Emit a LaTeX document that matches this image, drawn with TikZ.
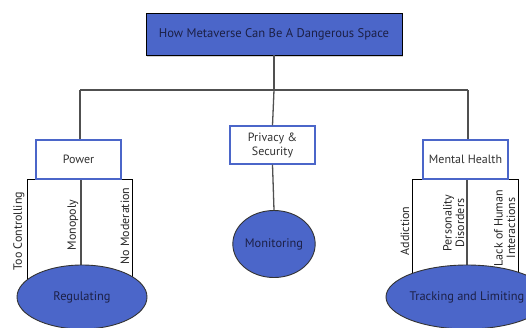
\documentclass[tikz,border=0pt]{standalone}
\usepackage{fontspec}
\setmainfont{PT Sans}
\usepackage{tikz}
\usetikzlibrary{shapes.geometric, positioning, calc, shadows}

\definecolor{mblue}{RGB}{75,102,201}
\definecolor{navy}{RGB}{28,32,70}
\definecolor{txtgray}{RGB}{50,50,50}
\definecolor{linegray}{RGB}{80,80,80}

\begin{document}
\begin{tikzpicture}[
    x=1pt, y=-1pt,
    title/.style={rectangle, draw=black, line width=0.9pt, fill=mblue, text=navy, font=\fontsize{12.6}{14}\selectfont, minimum width=256pt, minimum height=42pt, drop shadow={shadow xshift=1pt, shadow yshift=-1.5pt, opacity=0.35}},
    topic/.style={rectangle, draw=mblue, line width=1.4pt, fill=white, text=txtgray, align=center, font=\fontsize{12}{14}\selectfont, minimum width=85pt, minimum height=38pt, inner sep=1pt},
    blob/.style={ellipse, draw=black!80, line width=0.9pt, fill=mblue, text=navy, font=\fontsize{12.4}{14}\selectfont, inner sep=0pt},
    side/.style={rotate=90, anchor=south, align=center, text=black!85, font=\fontsize{12}{12.5}\selectfont, inner sep=1.5pt},
    link/.style={draw=linegray, line width=1.3pt},
    col/.style={draw=black, line width=1pt}
]
\clip (0,0) rectangle (526,327);
\fill[white] (0,0) rectangle (526,327);

% Columnas de Power
\coordinate (pa) at (27,179);
\coordinate (pb) at (81,179);
\coordinate (pc) at (132,179);
\draw[col] (pa) -- (pc);
\draw[col] (pa) -- ++(0,120);
\draw[link] (pb) -- ++(0,120);
\draw[col] (pc) -- ++(0,120);
\node[side] (too) at (26,231) {Too Controlling};
\node[side] (mono) at (80,225) {Monopoly};
\node[side] (nomod) at (131,226) {No Moderation};

% Columnas de Mental Health
\coordinate (ma) at (412,179);
\coordinate (mb) at (467,179);
\coordinate (mc) at (518,179);
\draw[col] (ma) -- (mc);
\draw[col] (ma) -- ++(0,120);
\draw[link] (mb) -- ++(0,120);
\draw[col] (mc) -- ++(0,120);
\node[side] (addict) at (411,231) {Addiction};
\node[side] (person) at (466,223) {Personality\\Disorders};
\node[side] (lack) at (517,228) {Lack of Human\\Interactions};

% Titulo
\node[title] (top) at (274,34) {How Metaverse Can Be A Dangerous Space};

% Temas
\node[topic, minimum height=39pt] (power) at (78.5,159.5) {Power};
\node[topic] (privacy) at (272.5,145) {Privacy \&\\Security};
\node[topic, minimum height=39pt] (mental) at (465.5,159.5) {Mental Health};

% Ramas
\coordinate (hl) at (80,90);
\coordinate (hr) at (468,90);
\draw[link] (top.south) -- (top.south |- hl);
\draw[link] (hl) -- (hr);
\draw[link] (hl) -- (hl |- power.north);
\draw[link] (hr) -- (hr |- mental.north);
\draw[link] (top.south |- hl) -- (privacy.north);

% Elipses
\node[blob, minimum width=130pt, minimum height=64pt] (reg) at (82,297) {Regulating};
\node[blob, minimum width=77pt, minimum height=67pt] (mon) at (274,244) {Monitoring};
\node[blob, minimum width=130pt, minimum height=64pt] (track) at (467,297) {Tracking and Limiting};
\draw[link] (privacy.south) -- (mon.north);

\end{tikzpicture}
\end{document}
